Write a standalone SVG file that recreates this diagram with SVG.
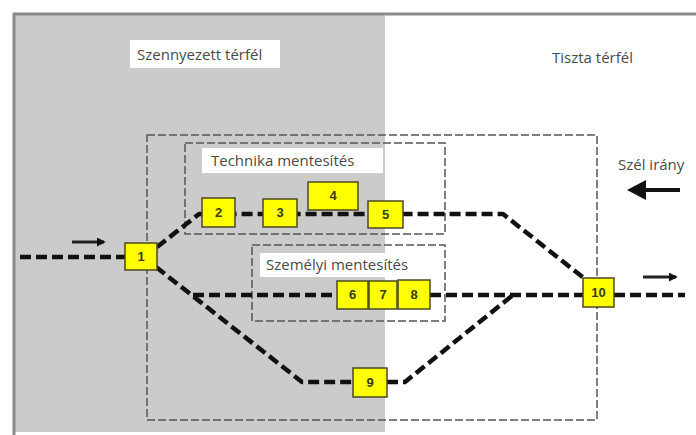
<svg xmlns="http://www.w3.org/2000/svg" width="696" height="435" viewBox="0 0 696 435">
<defs>
<style>
.lbl{font-family:"Open Sans","Liberation Sans",Arial,sans-serif;font-size:15px;fill:#4a4a4a}
.num{font-family:"Liberation Sans",Arial,sans-serif;font-size:13px;font-weight:bold;fill:#3a3a1a;text-anchor:middle}
.nd{fill:#ffff00;stroke:#4a4a20;stroke-width:1.5}
.box{fill:none;stroke:#555;stroke-width:1.5;stroke-dasharray:8 3}
.path{fill:none;stroke:#111;stroke-width:4.5;stroke-dasharray:11 5;stroke-linejoin:round}
.wb{fill:#fff}
</style>
<marker id="ah" viewBox="0 0 10 10" refX="8" refY="5" markerWidth="3" markerHeight="3" orient="auto">
<path d="M0,0 L10,5 L0,10 z" fill="#111"/>
</marker>
</defs>
<rect x="0" y="0" width="696" height="435" fill="#fff"/>
<g id="background">
<rect x="15" y="15" width="370" height="417" fill="#cbcbcb"/>
<line x1="13" y1="14" x2="696" y2="14" stroke="#8a8a8a" stroke-width="3"/>
<line x1="14" y1="13" x2="14" y2="435" stroke="#8a8a8a" stroke-width="3"/>
</g>
<g id="label-szennyezett">
<rect class="wb" x="130" y="40" width="150" height="28"/>
<text class="lbl" x="137" y="60">Szennyezett térfél</text>
</g>
<g id="label-tiszta">
<text class="lbl" x="552" y="63">Tiszta térfél</text>
</g>
<g id="outer-box">
<rect class="box" x="147" y="135" width="450" height="285"/>
</g>
<g id="technika-box">
<rect class="box" x="185" y="143" width="260" height="91"/>
<rect class="wb" x="202" y="148" width="181" height="25"/>
<text class="lbl" x="211" y="166">Technika mentesítés</text>
</g>
<g id="szemelyi-box">
<rect class="box" x="252" y="245" width="193" height="76"/>
<rect class="wb" x="260" y="253" width="157" height="24"/>
<text class="lbl" x="266" y="270">Személyi mentesítés</text>
</g>
<g id="connectors">
<path class="path" d="M20,257 H125"/>
<path class="path" d="M157,247 L199,214 H503 L585,279"/>
<path class="path" d="M156,267 L302,382 H353"/>
<path class="path" d="M387,382 H405 L513,295"/>
<path class="path" d="M193,295 H337"/>
<path class="path" d="M430,295 H583"/>
<path class="path" d="M614,295 H685"/>
<line x1="72" y1="242" x2="104" y2="242" stroke="#222" stroke-width="3" marker-end="url(#ah)"/>
<line x1="643" y1="277" x2="676" y2="277" stroke="#222" stroke-width="3" marker-end="url(#ah)"/>
</g>
<g id="wind">
<text class="lbl" x="618" y="170">Szél irány</text>
<line x1="680" y1="190" x2="642" y2="190" stroke="#111" stroke-width="4"/>
<path d="M627,190 L646,180 L646,200 z" fill="#111"/>
</g>
<g id="n1"><rect class="nd" x="125" y="243" width="32" height="27"/><text class="num" x="141" y="261">1</text></g>
<g id="n2"><rect class="nd" x="202" y="198" width="33" height="29"/><text class="num" x="218.5" y="217">2</text></g>
<g id="n3"><rect class="nd" x="263" y="199" width="34" height="28"/><text class="num" x="280" y="217">3</text></g>
<g id="n4"><rect class="nd" x="308" y="182" width="50" height="28"/><text class="num" x="333" y="200">4</text></g>
<g id="n5"><rect class="nd" x="368" y="201" width="35" height="27"/><text class="num" x="385.5" y="219">5</text></g>
<g id="n6"><rect class="nd" x="337" y="281" width="31" height="28"/><text class="num" x="352.5" y="299">6</text></g>
<g id="n7"><rect class="nd" x="369" y="281" width="28" height="28"/><text class="num" x="383" y="299">7</text></g>
<g id="n8"><rect class="nd" x="398" y="280" width="32" height="29"/><text class="num" x="414" y="299">8</text></g>
<g id="n9"><rect class="nd" x="353" y="368" width="34" height="29"/><text class="num" x="370" y="387">9</text></g>
<g id="n10"><rect class="nd" x="583" y="278" width="31" height="29"/><text class="num" x="598.5" y="297">10</text></g>
</svg>
